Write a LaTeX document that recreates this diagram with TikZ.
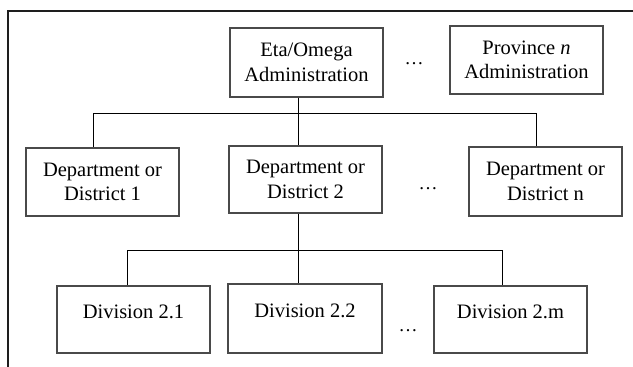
\documentclass[tikz,border=0pt]{standalone}
\usepackage{fontspec}
\setmainfont{Liberation Serif}
\definecolor{boxline}{HTML}{4A4A4A}
\definecolor{frameline}{HTML}{1E1E1E}
\begin{document}
\begin{tikzpicture}[x=1pt,y=-1pt,
  orgbox/.style={draw=boxline, line width=1.1pt, inner sep=0pt, minimum width=153pt,
     minimum height=68pt, align=center, font=\fontsize{20.5}{24.5}\selectfont},
  conn/.style={draw=black, line width=1pt},
  framestyle/.style={draw=frameline, line width=2.2pt},
  dotsnode/.style={anchor=base, inner sep=0pt, font=\fontsize{19}{24}\selectfont}]
\useasboundingbox (0,0) rectangle (633,367);
% frame
\draw[framestyle] (8,368) -- (8,11) -- (634,11);
% top row
\node[orgbox, minimum height=69pt] (eta) at (306.5,62.5) {Eta/Omega\\Administration};
\node[orgbox] (prov) at (526.5,60) {Province \textit{n}\\Administration};
\node[dotsnode] (dtop) at (414,64) {\dots};
% middle row
\node[orgbox] (d1) at (102.5,182) {Department or\\District 1};
\node[orgbox, minimum height=67pt] (d2) at (305.5,179.5) {Department or\\District 2};
\node[orgbox, minimum height=69pt] (dn) at (545.5,181.5) {Department or\\District n};
\node[dotsnode] (dmid) at (428,189) {\dots};
% bottom row
\node[orgbox, minimum height=67pt] (v1) at (133.5,319.5) {\raisebox{8pt}[\height][\depth]{Division 2.1}};
\node[orgbox, minimum width=154pt, minimum height=69pt] (v2) at (305,318.5) {\raisebox{8pt}[\height][\depth]{Division 2.2}};
\node[orgbox, minimum height=67pt] (vm) at (510.5,319.5) {\raisebox{8pt}[\height][\depth]{Division 2.m}};
\node[dotsnode] (dbot) at (408,331) {\dots};
% bus 1
\coordinate (j1) at (93,113);
\coordinate (j2) at (298.5,113);
\coordinate (j3) at (536,113);
\draw[conn] (j1) -- (j3);
\draw[conn] (eta.south -| j2) -- (d2.north -| j2);
\draw[conn] (j1) -- (d1.north -| j1);
\draw[conn] (j3) -- (dn.north -| j3);
% bus 2
\coordinate (k1) at (127,250);
\coordinate (k2) at (298.5,250);
\coordinate (k3) at (502,250);
\draw[conn] (k1) -- (k3);
\draw[conn] (d2.south -| k2) -- (v2.north -| k2);
\draw[conn] (k1) -- (v1.north -| k1);
\draw[conn] (k3) -- (vm.north -| k3);
\end{tikzpicture}
\end{document}
